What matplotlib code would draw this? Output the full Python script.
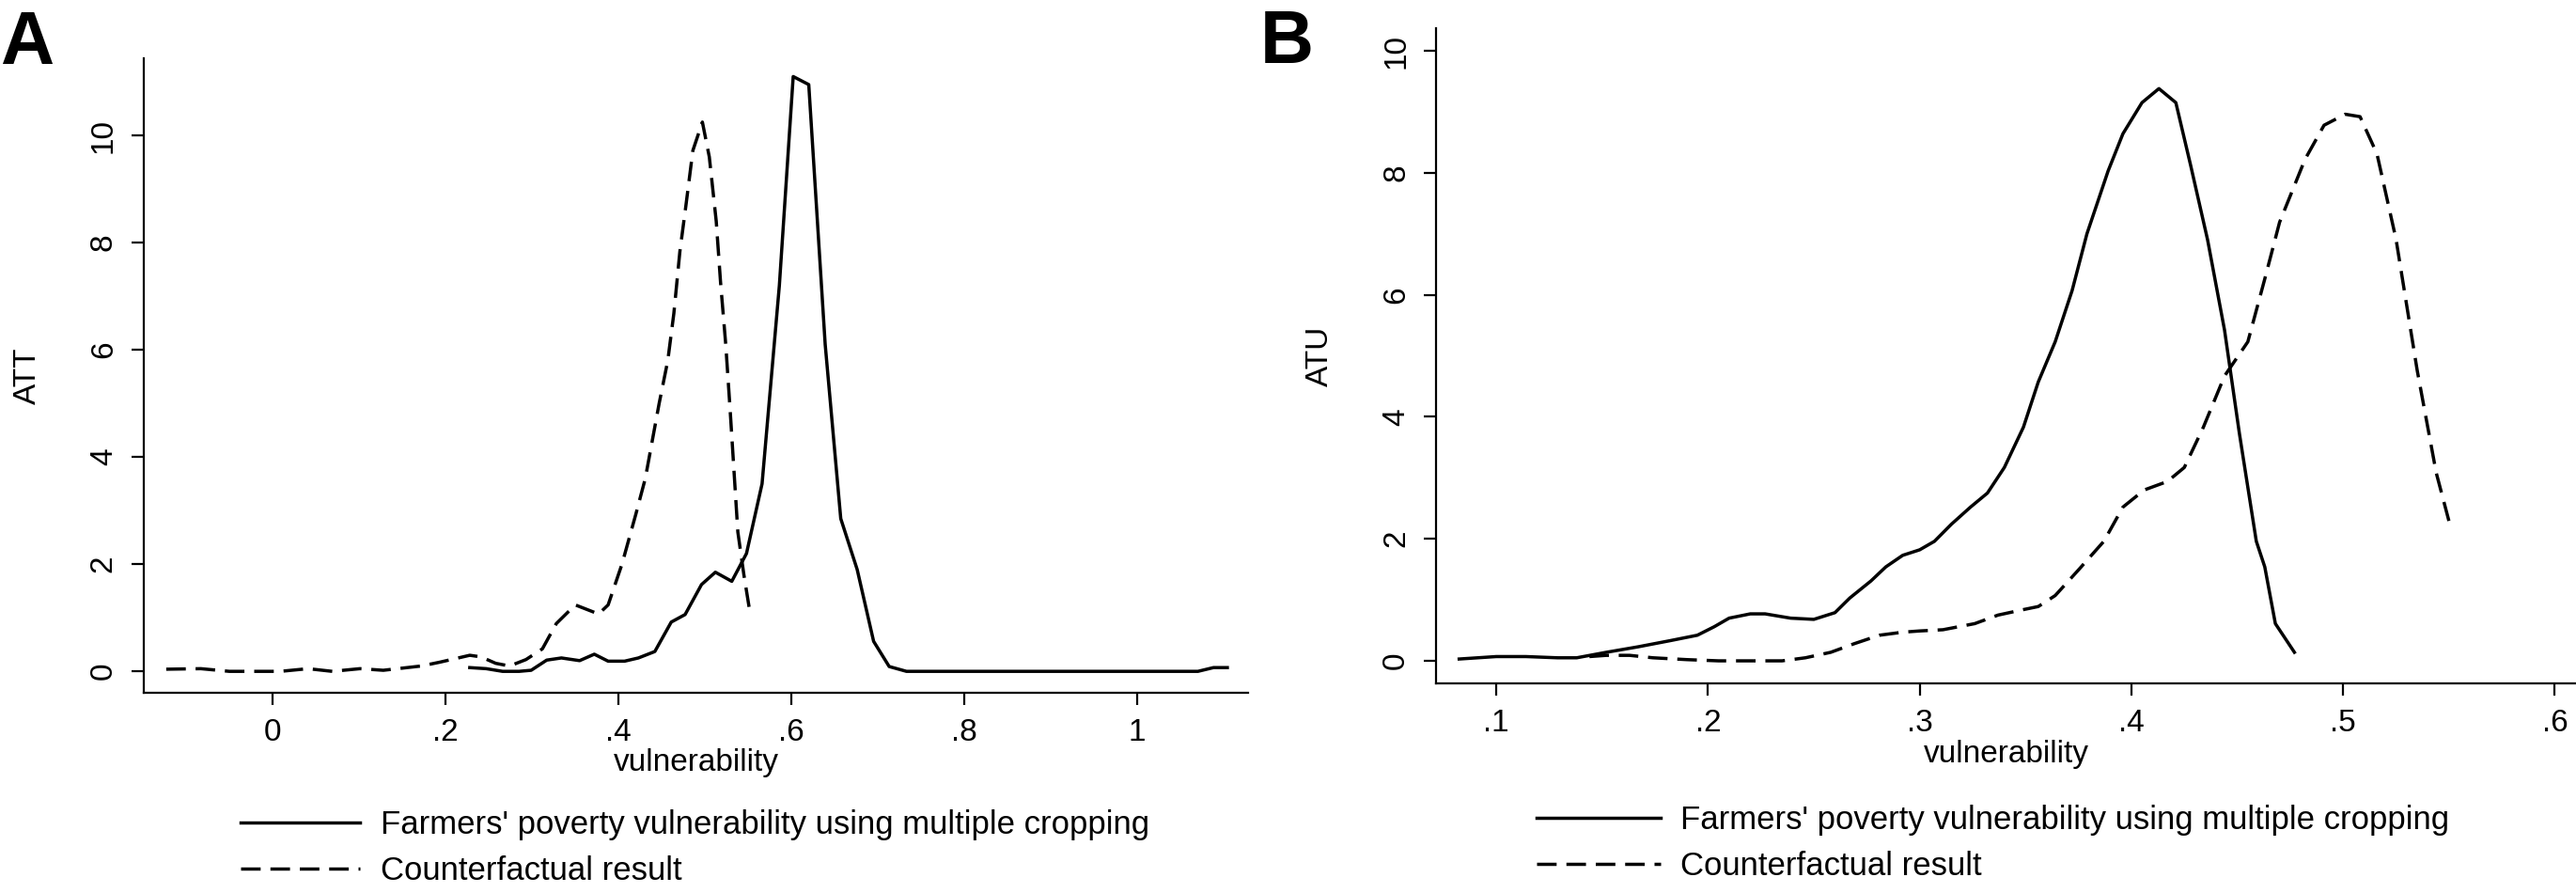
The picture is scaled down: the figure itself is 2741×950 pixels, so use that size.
import matplotlib.pyplot as plt
import numpy as np

plt.rcParams['font.family'] = ['Liberation Sans', 'DejaVu Sans']

# panel A (ATT)
att_x = [0.228, 0.247, 0.266, 0.285, 0.299, 0.317, 0.334, 0.355, 0.372, 0.388,
         0.407, 0.423, 0.442, 0.461, 0.477, 0.496, 0.512, 0.531, 0.548, 0.566,
         0.586, 0.602, 0.620, 0.639, 0.657, 0.676, 0.695, 0.713, 0.733, 0.80,
         0.90, 1.00, 1.07, 1.088, 1.104]
att_y = [0.07, 0.05, 0.0, 0.0, 0.02, 0.21, 0.25, 0.2, 0.32, 0.19,
         0.19, 0.25, 0.37, 0.92, 1.06, 1.62, 1.85, 1.68, 2.2, 3.5,
         7.2, 11.1, 10.95, 6.1, 2.85, 1.9, 0.56, 0.09, 0.0, 0.0,
         0.0, 0.0, 0.0, 0.07, 0.07]

att_cf_x = [-0.123, -0.083, -0.05, 0.009, 0.041, 0.069, 0.101, 0.128, 0.172, 0.193,
            0.212, 0.228, 0.241, 0.258, 0.274, 0.293, 0.312, 0.328, 0.350, 0.377,
            0.388, 0.404, 0.420, 0.431, 0.447, 0.457, 0.464, 0.471, 0.478, 0.486,
            0.497, 0.505, 0.513, 0.518, 0.524, 0.529, 0.538, 0.545, 0.552]
att_cf_y = [0.04, 0.05, 0.0, 0.0, 0.05, 0.0, 0.05, 0.02, 0.1, 0.17,
            0.24, 0.3, 0.27, 0.15, 0.1, 0.22, 0.42, 0.89, 1.24, 1.07,
            1.24, 2.0, 2.93, 3.6, 5.0, 5.8, 6.68, 7.84, 8.7, 9.72,
            10.25, 9.6, 8.4, 7.26, 6.1, 4.9, 2.6, 1.8, 1.1]

# panel B (ATU)
atu_x = [0.0825, 0.1, 0.114, 0.129, 0.138, 0.152, 0.167, 0.182, 0.195, 0.203,
         0.21, 0.22, 0.227, 0.239, 0.25, 0.26, 0.267, 0.277, 0.284, 0.292,
         0.3, 0.307, 0.315, 0.324, 0.332, 0.34, 0.349, 0.356, 0.364, 0.372,
         0.379, 0.389, 0.396, 0.405, 0.413, 0.421, 0.428, 0.436, 0.444, 0.451,
         0.459, 0.463, 0.468, 0.477]
atu_y = [0.03, 0.07, 0.07, 0.05, 0.05, 0.14, 0.23, 0.33, 0.42, 0.56,
         0.7, 0.77, 0.77, 0.7, 0.68, 0.79, 1.03, 1.31, 1.54, 1.73,
         1.82, 1.96, 2.24, 2.52, 2.75, 3.17, 3.83, 4.57, 5.23, 6.07,
         7.0, 8.03, 8.64, 9.15, 9.38, 9.15, 8.12, 6.9, 5.42, 3.73,
         1.96, 1.54, 0.61, 0.14]

atu_cf_x = [0.144, 0.152, 0.163, 0.174, 0.19, 0.205, 0.22, 0.235, 0.246, 0.258,
            0.269, 0.281, 0.292, 0.3, 0.311, 0.326, 0.337, 0.349, 0.356, 0.364,
            0.375, 0.387, 0.396, 0.406, 0.417, 0.425, 0.434, 0.444, 0.455, 0.463,
            0.47, 0.482, 0.491, 0.501, 0.508, 0.516, 0.525, 0.535, 0.544, 0.55]
atu_cf_y = [0.07, 0.09, 0.09, 0.05, 0.02, 0.0, 0.0, 0.0, 0.05, 0.14,
            0.28, 0.42, 0.47, 0.49, 0.51, 0.61, 0.75, 0.84, 0.89, 1.07,
            1.49, 1.96, 2.52, 2.8, 2.94, 3.17, 3.83, 4.67, 5.23, 6.26,
            7.19, 8.22, 8.78, 8.96, 8.92, 8.31, 6.91, 4.76, 3.08, 2.29]

label_solid = "Farmers' poverty vulnerability using multiple cropping"
label_dash = "Counterfactual result"

fig = plt.figure(figsize=(27.41, 9.5), dpi=100)

axA = fig.add_axes([0.0558, 0.2242, 0.4287, 0.7105])
axB = fig.add_axes([0.5575, 0.2347, 0.4425, 0.7337])

fs = 24
lw = 2.5
dash = (6, 3)

for ax in (axA, axB):
    for s in ('top', 'right'):
        ax.spines[s].set_visible(False)
    for s in ('left', 'bottom'):
        ax.spines[s].set_linewidth(1.6)
    ax.tick_params(axis='both', length=9.5, width=1.6, pad=10, labelsize=fs)
    ax.tick_params(axis='y', labelrotation=90)
    ax.set_yticks([0, 2, 4, 6, 8, 10])
    ax.set_xlabel("vulnerability", fontsize=fs, labelpad=1)

axA.plot(att_x, att_y, color='black', lw=lw, label=label_solid)
axA.plot(att_cf_x, att_cf_y, color='black', lw=lw, dashes=dash, label=label_dash)
axA.set_xlim(-0.149, 1.128)
axA.set_ylim(-0.40, 11.44)
axA.set_xticks([0, 0.2, 0.4, 0.6, 0.8, 1.0])
axA.set_xticklabels(["0", ".2", ".4", ".6", ".8", "1"])
axA.set_ylabel("ATT", fontsize=fs, labelpad=36)
for t in axA.get_yticklabels():
    t.set_va('center')

axB.plot(atu_x, atu_y, color='black', lw=lw, label=label_solid)
axB.plot(atu_cf_x, atu_cf_y, color='black', lw=lw, dashes=dash, label=label_dash)
axB.set_xlim(0.0716, 0.61)
axB.set_ylim(-0.37, 10.37)
axB.set_xticks([0.1, 0.2, 0.3, 0.4, 0.5, 0.6])
axB.set_xticklabels([".1", ".2", ".3", ".4", ".5", ".6"])
axB.set_ylabel("ATU", fontsize=fs, labelpad=36)
for t in axB.get_yticklabels():
    t.set_va('center')

lfs = 25
axA.legend(loc='center left', bbox_to_anchor=(0.0934, 0.0505), bbox_transform=fig.transFigure,
           frameon=False, fontsize=lfs, handlelength=3.66, handletextpad=0.63,
           labelspacing=0.46, borderpad=0, borderaxespad=0)
axB.legend(loc='center left', bbox_to_anchor=(0.5965, 0.0558), bbox_transform=fig.transFigure,
           frameon=False, fontsize=lfs, handlelength=3.8, handletextpad=0.6,
           labelspacing=0.46, borderpad=0, borderaxespad=0)

fig.text(0.0, 0.9284, "A", fontsize=57, fontweight='bold', ha='left', va='baseline')
fig.text(0.4892, 0.9295, "B", fontsize=57, fontweight='bold', ha='left', va='baseline')

fig.savefig("out.png", dpi=100)
